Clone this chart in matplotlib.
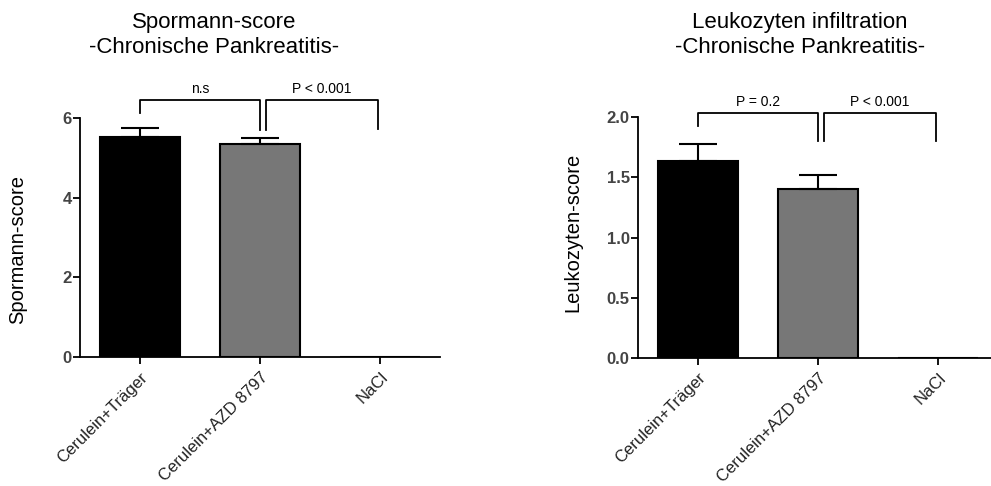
import matplotlib
matplotlib.use("Agg")
import matplotlib.pyplot as plt

plt.rcParams['font.family'] = ['Liberation Sans', 'DejaVu Sans']

categories = ["Cerulein+Träger", "Cerulein+AZD 8797", "NaCl"]
bar_colors = ["#000000", "#777777", "#ffffff"]

spormann_mean = [5.53, 5.34, 0.0]
spormann_err = [0.23, 0.17, 0.0]
spormann_ticks = [0, 2, 4, 6]

leuko_mean = [1.64, 1.40, 0.0]
leuko_err = [0.14, 0.12, 0.0]
leuko_ticks = [0.0, 0.5, 1.0, 1.5, 2.0]

# brackets: (x1, x2, y_top, y_left_bottom, y_right_bottom, label)
spormann_brackets = [
    (0.0, 1.0, 6.44, 6.13, 5.70, "n.s"),
    (1.05, 1.98, 6.44, 5.70, 5.72, "P < 0.001"),
]
leuko_brackets = [
    (0.0, 1.0, 2.04, 1.93, 1.80, "P = 0.2"),
    (1.05, 1.98, 2.04, 1.80, 1.80, "P < 0.001"),
]


def draw_panel(ax, means, errs, ticks, brackets, ylabel, label_xy, text_dy):
    x = range(len(categories))
    ax.bar(x, means, width=0.667, color=bar_colors, edgecolor="black", linewidth=1.5, zorder=2)
    for i in x:
        if errs[i] > 0:
            ax.errorbar(i, means[i], yerr=[[0], [errs[i]]], fmt="none", ecolor="black",
                        elinewidth=1.5, capsize=14, capthick=1.5, zorder=3)
    ax.set_xlim(-0.5, 2.5)
    ax.set_ylim(ticks[0], ticks[-1])
    ax.set_yticks(ticks)
    if isinstance(ticks[1], float):
        ax.set_yticklabels([f"{t:.1f}" for t in ticks])
    ax.set_xticks(list(x))
    ax.set_xticklabels(categories, rotation=45, ha="right", va="top", rotation_mode="anchor",
                       fontsize=12, color="#222222")
    for lab in ax.get_yticklabels():
        lab.set_fontweight("bold")
        lab.set_color("#444444")
        lab.set_fontsize(12)
    ax.spines["top"].set_visible(False)
    ax.spines["right"].set_visible(False)
    ax.spines["left"].set_linewidth(1.3)
    ax.spines["bottom"].set_linewidth(1.3)
    ax.tick_params(axis="y", direction="out", length=5, width=1.3, pad=1)
    ax.tick_params(axis="x", direction="out", length=5, width=1.3, pad=4)
    ax.set_ylabel(ylabel, fontsize=14.5, va="center")
    ax.yaxis.set_label_coords(*label_xy)

    for x1, x2, yt, yl, yr, lab in brackets:
        ax.plot([x1, x1, x2, x2], [yl, yt, yt, yr], color="black", lw=1.3, clip_on=False)
        ax.text((x1 + x2) / 2, yt + text_dy, lab, ha="center", va="bottom", fontsize=10)


fig = plt.figure(figsize=(9.91, 4.86), dpi=100)
ax1 = fig.add_axes([0.0807, 0.2654, 0.3633, 0.4918])
ax2 = fig.add_axes([0.6438, 0.2640, 0.3633, 0.4946])

draw_panel(ax1, spormann_mean, spormann_err, spormann_ticks, spormann_brackets,
           "Spormann-score", (-0.172, 0.45), 0.1)
draw_panel(ax2, leuko_mean, leuko_err, leuko_ticks, leuko_brackets,
           "Leukozyten-score", (-0.181, 0.52), 0.03)

fig.text(214 / 991, 1 - 35 / 486, "Spormann-score\n-Chronische Pankreatitis-", ha="center",
         va="center", fontsize=16, linespacing=1.2)
fig.text(800 / 991, 1 - 35 / 486, "Leukozyten infiltration\n-Chronische Pankreatitis-", ha="center",
         va="center", fontsize=16, linespacing=1.2)

fig.savefig("out.png", dpi=100)
